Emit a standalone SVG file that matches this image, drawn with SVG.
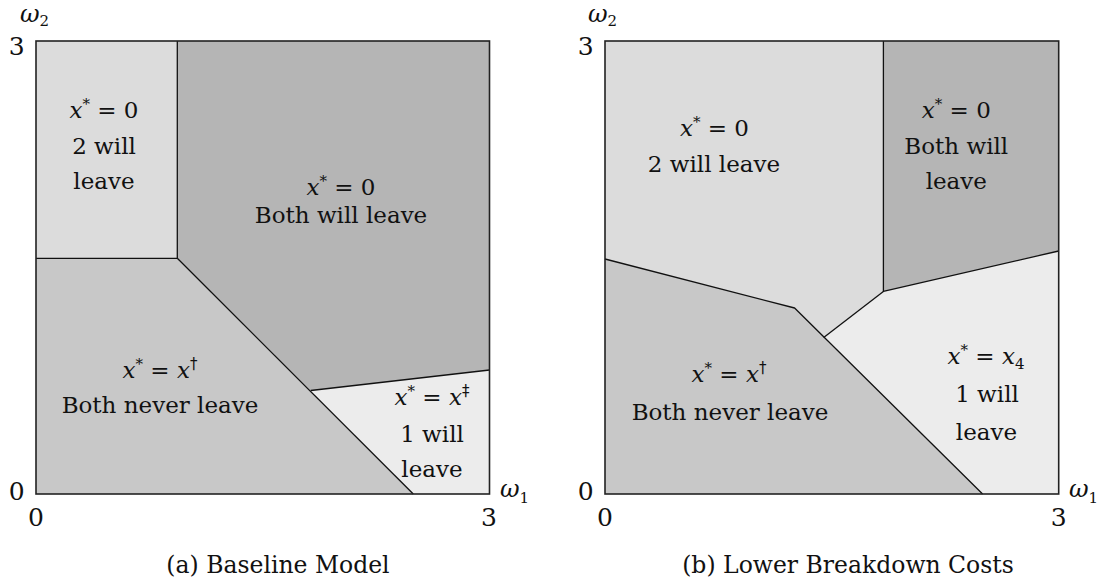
<svg xmlns="http://www.w3.org/2000/svg" width="1104" height="588" viewBox="0 0 1104 588">
<style>
text{font-family:'DejaVu Serif',serif;font-size:23px;fill:#111;text-anchor:middle}
.i{font-style:italic}
.sup{font-size:15px}
.sub{font-size:15px}
.dg{font-family:'DejaVu Sans','Liberation Sans',sans-serif;fill:#111;font-style:normal}
.num{font-size:25px}
.cap{font-size:23.5px}
.region{stroke:none}
.c1{fill:#dcdcdc}
.c2{fill:#b5b5b5}
.c3{fill:#c8c8c8}
.c4{fill:#ececec}
.edge{fill:none;stroke:#111;stroke-width:1.3;stroke-linejoin:round}
.frame{fill:none;stroke:#222;stroke-width:1.6}
.ax{text-anchor:start;font-size:24px}
</style>
<rect width="1104" height="588" fill="#fff"/>

<!-- Panel (a) -->
<g id="panel-a">
  <g id="a-two-leave">
    <polygon class="region c1" points="36,41 177.3,41 177.3,258.3 36,258.3"/>
    <text x="104" y="118"><tspan class="i">x</tspan><tspan class="sup" dy="-9">*</tspan><tspan dy="9"> = 0</tspan></text>
    <text x="104" y="154">2 will</text>
    <text x="104" y="189">leave</text>
  </g>
  <g id="a-both-leave">
    <polygon class="region c2" points="177.3,41 489.5,41 489.5,370 310.7,390.5 177.3,258.3"/>
    <text x="341" y="195"><tspan class="i">x</tspan><tspan class="sup" dy="-9">*</tspan><tspan dy="9"> = 0</tspan></text>
    <text x="341" y="223">Both will leave</text>
  </g>
  <g id="a-never-leave">
    <polygon class="region c3" points="36,258.3 177.3,258.3 413.3,494 36,494"/>
    <text x="160" y="378"><tspan class="i">x</tspan><tspan class="sup" dy="-9">*</tspan><tspan dy="9"> = </tspan><tspan class="i">x</tspan><tspan class="sup dg" dy="-9">†</tspan></text>
    <text x="160" y="413">Both never leave</text>
  </g>
  <g id="a-one-leave">
    <polygon class="region c4" points="310.7,390.5 489.5,370 489.5,494 413.3,494"/>
    <text x="432" y="405"><tspan class="i">x</tspan><tspan class="sup" dy="-9">*</tspan><tspan dy="9"> = </tspan><tspan class="i">x</tspan><tspan class="sup dg" dy="-9">‡</tspan></text>
    <text x="432" y="442">1 will</text>
    <text x="432" y="477">leave</text>
  </g>
  <g id="a-axes">
    <text class="ax i" x="20" y="22">ω<tspan class="sub" font-style="normal" dy="4">2</tspan></text>
    <text class="num" x="16.7" y="55">3</text>
    <text class="num" x="16.7" y="500">0</text>
    <text class="num" x="36" y="526">0</text>
    <text class="num" x="489" y="526">3</text>
    <text class="ax i" x="500" y="497">ω<tspan class="sub" font-style="normal" dy="6">1</tspan></text>
  </g>
  <text id="caption-a" class="cap" x="278" y="573">(a) Baseline Model</text>
</g>

<!-- Panel (b) -->
<g id="panel-b">
  <g id="b-two-leave">
    <polygon class="region c1" points="605,41 883.4,41 883.4,291.4 823.7,337.5 794.6,308 605,259"/>
    <text x="714.5" y="136"><tspan class="i">x</tspan><tspan class="sup" dy="-9">*</tspan><tspan dy="9"> = 0</tspan></text>
    <text x="714" y="172">2 will leave</text>
  </g>
  <g id="b-both-leave">
    <polygon class="region c2" points="883.4,41 1058.7,41 1058.7,251 883.4,291.4"/>
    <text x="956.3" y="118"><tspan class="i">x</tspan><tspan class="sup" dy="-9">*</tspan><tspan dy="9"> = 0</tspan></text>
    <text x="956.3" y="154">Both will</text>
    <text x="956.3" y="188.5">leave</text>
  </g>
  <g id="b-never-leave">
    <polygon class="region c3" points="605,259 794.6,308 982.6,494 605,494"/>
    <text x="729" y="382"><tspan class="i">x</tspan><tspan class="sup" dy="-9">*</tspan><tspan dy="9"> = </tspan><tspan class="i">x</tspan><tspan class="sup dg" dy="-9">†</tspan></text>
    <text x="730" y="420">Both never leave</text>
  </g>
  <g id="b-one-leave">
    <polygon class="region c4" points="823.7,337.5 883.4,291.4 1058.7,251 1058.7,494 982.6,494"/>
    <text x="986" y="364"><tspan class="i">x</tspan><tspan class="sup" dy="-9">*</tspan><tspan dy="9"> = </tspan><tspan class="i">x</tspan><tspan class="sub" dy="5">4</tspan></text>
    <text x="987" y="402">1 will</text>
    <text x="986.5" y="439.5">leave</text>
  </g>
  <g id="b-axes">
    <text class="ax i" x="588" y="22">ω<tspan class="sub" font-style="normal" dy="4">2</tspan></text>
    <text class="num" x="585.8" y="55">3</text>
    <text class="num" x="585.8" y="500">0</text>
    <text class="num" x="605" y="526">0</text>
    <text class="num" x="1058.8" y="526">3</text>
    <text class="ax i" x="1069" y="497">ω<tspan class="sub" font-style="normal" dy="6">1</tspan></text>
  </g>
  <text id="caption-b" class="cap" x="848" y="573">(b) Lower Breakdown Costs</text>
</g>

<!-- Boundaries -->
<g id="connectors">
  <polyline class="edge" points="177.3,41 177.3,258.3 36,258.3"/>
  <polyline class="edge" points="177.3,258.3 413.3,494"/>
  <polyline class="edge" points="310.7,390.5 489.5,370"/>
  <polyline class="edge" points="883.4,41 883.4,291.4 1058.7,251"/>
  <polyline class="edge" points="605,259 794.6,308 982.6,494"/>
  <polyline class="edge" points="883.4,291.4 823.7,337.5"/>
  <rect class="frame" x="36" y="41" width="453.5" height="453"/>
  <rect class="frame" x="605" y="41" width="453.7" height="453"/>
</g>
</svg>
